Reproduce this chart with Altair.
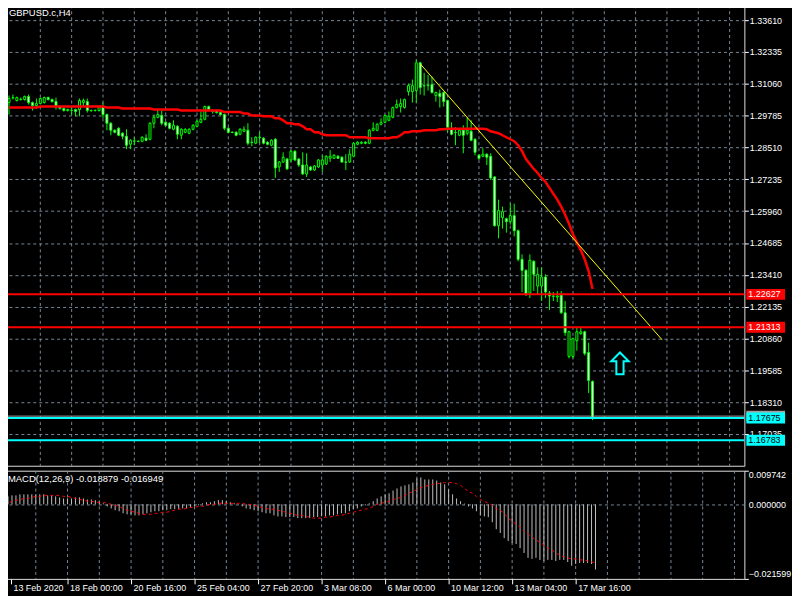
import altair as alt
import pandas as pd

# ---------------- data ----------------
bar_open = [
    1.3031, 1.3051, 1.3039, 1.3043, 1.3043, 1.3055, 1.3031, 1.3019, 1.3027, 1.3031,
    1.3051, 1.3043, 1.3035, 1.3015, 1.3007, 1.2999, 1.2999, 1.3003, 1.3003, 1.3031,
    1.3035, 1.2999, 1.2999, 1.2999, 1.3015, 1.2983, 1.2948, 1.2920, 1.2928, 1.2908,
    1.2896, 1.2864, 1.2876, 1.2876, 1.2876, 1.2888, 1.2884, 1.2948, 1.2972, 1.2979,
    1.2952, 1.2948, 1.2924, 1.2936, 1.2900, 1.2912, 1.2908, 1.2924, 1.2936, 1.2952,
    1.2964, 1.3015, 1.2995, 1.2999, 1.2991, 1.2983, 1.2928, 1.2912, 1.2912, 1.2904,
    1.2916, 1.2920, 1.2872, 1.2868, 1.2892, 1.2888, 1.2872, 1.2860, 1.2884, 1.2773,
    1.2793, 1.2805, 1.2801, 1.2836, 1.2805, 1.2781, 1.2745, 1.2773, 1.2761, 1.2773,
    1.2781, 1.2785, 1.2808, 1.2808, 1.2816, 1.2812, 1.2793, 1.2793, 1.2816, 1.2864,
    1.2868, 1.2872, 1.2868, 1.2920, 1.2920, 1.2944, 1.2952, 1.2960, 1.2972, 1.3011,
    1.3015, 1.3011, 1.3075, 1.3075, 1.3079, 1.3190, 1.3099, 1.3099, 1.3103, 1.3059,
    1.3067, 1.3071, 1.3039, 1.2928, 1.2912, 1.2900, 1.2920, 1.2908, 1.2916, 1.2884,
    1.2820, 1.2816, 1.2824, 1.2816, 1.2733, 1.2538, 1.2570, 1.2566, 1.2554, 1.2578,
    1.2518, 1.2403, 1.2359, 1.2268, 1.2395, 1.2296, 1.2296, 1.2332, 1.2268, 1.2256,
    1.2252, 1.2260, 1.2189, 1.2014, 1.2014, 1.2077, 1.2105, 1.2113, 1.2030, 1.1914,
]
bar_high = [
    1.3059, 1.3063, 1.3055, 1.3051, 1.3059, 1.3063, 1.3035, 1.3047, 1.3051, 1.3055,
    1.3055, 1.3047, 1.3051, 1.3019, 1.3011, 1.3007, 1.3015, 1.3007, 1.3047, 1.3047,
    1.3047, 1.3003, 1.3003, 1.3019, 1.3031, 1.2987, 1.2952, 1.2924, 1.2932, 1.2912,
    1.2924, 1.2884, 1.2892, 1.2880, 1.2896, 1.2904, 1.2952, 1.2983, 1.3003, 1.2999,
    1.2956, 1.2952, 1.2960, 1.2940, 1.2928, 1.2928, 1.2928, 1.2944, 1.2960, 1.2995,
    1.3019, 1.3019, 1.3003, 1.3003, 1.2995, 1.2987, 1.2932, 1.2916, 1.2916, 1.2928,
    1.2936, 1.2948, 1.2892, 1.2896, 1.2912, 1.2892, 1.2876, 1.2884, 1.2888, 1.2797,
    1.2832, 1.2808, 1.2840, 1.2840, 1.2808, 1.2832, 1.2828, 1.2777, 1.2781, 1.2805,
    1.2820, 1.2820, 1.2840, 1.2824, 1.2820, 1.2816, 1.2824, 1.2844, 1.2872, 1.2876,
    1.2876, 1.2876, 1.2924, 1.2952, 1.2948, 1.2968, 1.2983, 1.2995, 1.3015, 1.3043,
    1.3047, 1.3047, 1.3107, 1.3123, 1.3202, 1.3194, 1.3150, 1.3142, 1.3135, 1.3075,
    1.3083, 1.3075, 1.3043, 1.2952, 1.2932, 1.2924, 1.2940, 1.2972, 1.2960, 1.2888,
    1.2824, 1.2848, 1.2828, 1.2828, 1.2737, 1.2642, 1.2614, 1.2570, 1.2626, 1.2626,
    1.2522, 1.2423, 1.2363, 1.2423, 1.2399, 1.2371, 1.2371, 1.2343, 1.2276, 1.2272,
    1.2276, 1.2276, 1.2236, 1.2117, 1.2089, 1.2133, 1.2133, 1.2117, 1.2069, 1.1918,
]
bar_low = [
    1.2983, 1.3043, 1.3035, 1.3039, 1.3039, 1.3023, 1.2999, 1.3007, 1.3023, 1.3027,
    1.3039, 1.3031, 1.3003, 1.3003, 1.2995, 1.2995, 1.2983, 1.2976, 1.2976, 1.3015,
    1.2991, 1.2995, 1.2995, 1.2995, 1.2968, 1.2920, 1.2900, 1.2908, 1.2896, 1.2884,
    1.2844, 1.2844, 1.2860, 1.2872, 1.2872, 1.2876, 1.2880, 1.2928, 1.2968, 1.2940,
    1.2936, 1.2924, 1.2920, 1.2884, 1.2884, 1.2908, 1.2904, 1.2920, 1.2932, 1.2948,
    1.2960, 1.2999, 1.2987, 1.2987, 1.2979, 1.2920, 1.2908, 1.2908, 1.2896, 1.2900,
    1.2912, 1.2860, 1.2856, 1.2864, 1.2868, 1.2864, 1.2860, 1.2856, 1.2729, 1.2753,
    1.2789, 1.2761, 1.2793, 1.2797, 1.2773, 1.2741, 1.2733, 1.2757, 1.2757, 1.2769,
    1.2753, 1.2781, 1.2793, 1.2805, 1.2805, 1.2789, 1.2761, 1.2789, 1.2812, 1.2860,
    1.2864, 1.2864, 1.2864, 1.2916, 1.2916, 1.2940, 1.2948, 1.2956, 1.2968, 1.3007,
    1.2991, 1.3007, 1.3059, 1.3031, 1.3031, 1.3063, 1.3059, 1.3079, 1.3067, 1.3035,
    1.3011, 1.3015, 1.2912, 1.2900, 1.2860, 1.2896, 1.2828, 1.2900, 1.2876, 1.2820,
    1.2801, 1.2812, 1.2781, 1.2721, 1.2534, 1.2487, 1.2526, 1.2510, 1.2542, 1.2495,
    1.2395, 1.2272, 1.2256, 1.2248, 1.2276, 1.2260, 1.2236, 1.2248, 1.2200, 1.2236,
    1.2232, 1.2185, 1.2097, 1.2006, 1.2006, 1.2037, 1.2101, 1.2018, 1.1867, 1.1759,
]
bar_close = [
    1.3047, 1.3050, 1.3051, 1.3044, 1.3055, 1.3031, 1.3019, 1.3027, 1.3047, 1.3051,
    1.3043, 1.3035, 1.3015, 1.3007, 1.2999, 1.3003, 1.3000, 1.2995, 1.3039, 1.3039,
    1.2999, 1.2998, 1.3000, 1.3015, 1.2983, 1.2948, 1.2920, 1.2912, 1.2900, 1.2896,
    1.2860, 1.2880, 1.2877, 1.2875, 1.2892, 1.2880, 1.2948, 1.2972, 1.2983, 1.2948,
    1.2940, 1.2928, 1.2940, 1.2904, 1.2924, 1.2924, 1.2924, 1.2940, 1.2956, 1.2964,
    1.3015, 1.3003, 1.2996, 1.2991, 1.2983, 1.2928, 1.2912, 1.2911, 1.2900, 1.2924,
    1.2924, 1.2868, 1.2871, 1.2892, 1.2891, 1.2868, 1.2864, 1.2880, 1.2769, 1.2793,
    1.2812, 1.2765, 1.2836, 1.2801, 1.2781, 1.2745, 1.2781, 1.2761, 1.2777, 1.2801,
    1.2801, 1.2816, 1.2816, 1.2820, 1.2808, 1.2793, 1.2792, 1.2824, 1.2868, 1.2872,
    1.2872, 1.2868, 1.2920, 1.2928, 1.2944, 1.2952, 1.2979, 1.2976, 1.3011, 1.3023,
    1.3027, 1.3043, 1.3099, 1.3099, 1.3190, 1.3091, 1.3098, 1.3100, 1.3071, 1.3071,
    1.3055, 1.3035, 1.2932, 1.2904, 1.2911, 1.2920, 1.2900, 1.2920, 1.2880, 1.2832,
    1.2808, 1.2824, 1.2812, 1.2729, 1.2538, 1.2598, 1.2594, 1.2554, 1.2578, 1.2518,
    1.2403, 1.2359, 1.2264, 1.2399, 1.2343, 1.2343, 1.2332, 1.2272, 1.2256, 1.2255,
    1.2256, 1.2189, 1.2109, 1.2113, 1.2085, 1.2113, 1.2113, 1.2026, 1.1918, 1.1767,
]
ma_values = [
    1.3011, 1.3011, 1.3011, 1.3011, 1.3011, 1.3011, 1.3011, 1.3011, 1.3015, 1.3015,
    1.3015, 1.3015, 1.3015, 1.3015, 1.3015, 1.3015, 1.3015, 1.3015, 1.3015, 1.3015,
    1.3015, 1.3015, 1.3015, 1.3015, 1.3015, 1.3011, 1.3011, 1.3011, 1.3011, 1.3007,
    1.3007, 1.3007, 1.3007, 1.3007, 1.3007, 1.3007, 1.3007, 1.3003, 1.3003, 1.3003,
    1.3003, 1.3003, 1.3003, 1.3003, 1.2999, 1.2999, 1.2999, 1.2999, 1.2999, 1.2999,
    1.2999, 1.2999, 1.2999, 1.2999, 1.2999, 1.2993, 1.2993, 1.2993, 1.2993, 1.2993,
    1.2987, 1.2987, 1.2979, 1.2979, 1.2979, 1.2976, 1.2976, 1.2976, 1.2968, 1.2968,
    1.2960, 1.2948, 1.2948, 1.2944, 1.2944, 1.2936, 1.2924, 1.2924, 1.2912, 1.2912,
    1.2904, 1.2900, 1.2900, 1.2900, 1.2900, 1.2900, 1.2900, 1.2892, 1.2892, 1.2892,
    1.2892, 1.2892, 1.2888, 1.2888, 1.2888, 1.2888, 1.2888, 1.2888, 1.2892, 1.2892,
    1.2900, 1.2912, 1.2912, 1.2916, 1.2916, 1.2916, 1.2920, 1.2920, 1.2920, 1.2920,
    1.2924, 1.2924, 1.2926, 1.2926, 1.2926, 1.2926, 1.2926, 1.2926, 1.2926, 1.2926,
    1.2926, 1.2926, 1.2924, 1.2916, 1.2912, 1.2908, 1.2900, 1.2892, 1.2884, 1.2876,
    1.2860, 1.2836, 1.2805, 1.2785, 1.2765, 1.2749, 1.2729, 1.2713, 1.2689, 1.2665,
    1.2642, 1.2614, 1.2582, 1.2546, 1.2503, 1.2471, 1.2439, 1.2403, 1.2356, 1.2284,
]
macd_main = [
    0.0020, 0.0023, 0.0026, 0.0026, 0.0029, 0.0029, 0.0029, 0.0029, 0.0029, 0.0029,
    0.0029, 0.0026, 0.0026, 0.0023, 0.0020, 0.0017, 0.0017, 0.0017, 0.0020, 0.0020,
    0.0017, 0.0014, 0.0014, 0.0012, 0.0009, 0.0003, -0.0006, -0.0012, -0.0017, -0.0020,
    -0.0026, -0.0029, -0.0029, -0.0032, -0.0032, -0.0029, -0.0026, -0.0023, -0.0020, -0.0020,
    -0.0017, -0.0017, -0.0014, -0.0014, -0.0014, -0.0012, -0.0012, -0.0009, -0.0006, -0.0003,
    0.0003, 0.0006, 0.0006, 0.0009, 0.0012, 0.0012, 0.0009, 0.0006, 0.0003, -0.0001,
    -0.0006, -0.0012, -0.0014, -0.0017, -0.0020, -0.0023, -0.0026, -0.0026, -0.0032, -0.0035,
    -0.0035, -0.0037, -0.0037, -0.0037, -0.0040, -0.0040, -0.0040, -0.0040, -0.0037, -0.0037,
    -0.0035, -0.0035, -0.0032, -0.0032, -0.0029, -0.0026, -0.0026, -0.0020, -0.0014, -0.0012,
    -0.0006, -0.0003, 0.0003, 0.0009, 0.0017, 0.0023, 0.0029, 0.0032, 0.0040, 0.0046,
    0.0052, 0.0055, 0.0058, 0.0063, 0.0075, 0.0078, 0.0072, 0.0072, 0.0072, 0.0069,
    0.0063, 0.0058, 0.0043, 0.0029, 0.0017, 0.0009, 0.0002, -0.0006, -0.0012, -0.0020,
    -0.0032, -0.0035, -0.0037, -0.0052, -0.0072, -0.0083, -0.0098, -0.0106, -0.0112, -0.0115,
    -0.0127, -0.0141, -0.0155, -0.0158, -0.0155, -0.0161, -0.0164, -0.0161, -0.0161, -0.0164,
    -0.0161, -0.0161, -0.0167, -0.0178, -0.0173, -0.0170, -0.0170, -0.0170, -0.0173, -0.018879,
]
macd_signal = [
    0.0000, 0.0003, 0.0009, 0.0012, 0.0014, 0.0017, 0.0017, 0.0020, 0.0023, 0.0023,
    0.0026, 0.0026, 0.0026, 0.0026, 0.0026, 0.0023, 0.0023, 0.0020, 0.0017, 0.0014,
    0.0012, 0.0009, 0.0009, 0.0006, 0.0006, 0.0006, 0.0003, 0.0000, -0.0003, -0.0006,
    -0.0012, -0.0017, -0.0020, -0.0023, -0.0026, -0.0029, -0.0029, -0.0029, -0.0026, -0.0026,
    -0.0023, -0.0023, -0.0020, -0.0017, -0.0014, -0.0014, -0.0012, -0.0009, -0.0009, -0.0006,
    -0.0006, -0.0003, 0.0000, 0.0000, 0.0003, 0.0003, 0.0003, 0.0003, 0.0003, 0.0003,
    0.0003, 0.0000, 0.0000, -0.0003, -0.0006, -0.0009, -0.0012, -0.0014, -0.0014, -0.0017,
    -0.0020, -0.0023, -0.0026, -0.0029, -0.0032, -0.0032, -0.0035, -0.0037, -0.0040, -0.0040,
    -0.0040, -0.0037, -0.0037, -0.0035, -0.0032, -0.0032, -0.0029, -0.0026, -0.0023, -0.0020,
    -0.0017, -0.0014, -0.0012, -0.0006, 0.0000, 0.0003, 0.0006, 0.0009, 0.0014, 0.0017,
    0.0020, 0.0026, 0.0032, 0.0037, 0.0043, 0.0049, 0.0052, 0.0055, 0.0058, 0.0060,
    0.0060, 0.0063, 0.0063, 0.0063, 0.0060, 0.0055, 0.0046, 0.0037, 0.0032, 0.0023,
    0.0014, 0.0009, 0.0003, -0.0003, -0.0012, -0.0017, -0.0026, -0.0040, -0.0049, -0.0058,
    -0.0066, -0.0078, -0.0086, -0.0095, -0.0104, -0.0109, -0.0118, -0.0127, -0.0132, -0.0141,
    -0.0147, -0.0152, -0.0155, -0.0158, -0.0158, -0.0161, -0.0161, -0.0164, -0.0167, -0.016949,
]

price_ticks = [1.33610, 1.32335, 1.31060, 1.29785, 1.28510, 1.27235, 1.25960,
               1.24685, 1.23410, 1.22135, 1.20860, 1.19585, 1.18310, 1.17035]
macd_ticks = [0.009742, 0.0, -0.021599]
time_tick_idx = [1.75, 16, 32, 48, 64, 80, 96, 112, 128, 144]
time_tick_labels = ["13 Feb 2020", "18 Feb 00:00", "20 Feb 16:00", "25 Feb 04:00",
                    "27 Feb 20:00", "3 Mar 08:00", "6 Mar 00:00", "10 Mar 12:00",
                    "13 Mar 04:00", "17 Mar 16:00"]
grid_idx = [8, 16, 24, 32, 40, 48, 56, 64, 72, 80, 88, 96, 104, 112, 120, 128,
            136, 144, 152, 160, 168, 176, 184]

level_prices = [1.22627, 1.21313, 1.17675, 1.16783]
level_colors = ["#ff0000", "#ff0000", "#00ffff", "#00ffff"]
level_text_colors = ["#ffffff", "#ffffff", "#000000", "#000000"]
bid_price = [1.1775]

trend_idx = [105, 166.75]
trend_price = [1.3186, 1.2081]
arrow_idx = [156]
arrow_price = [1.1986]

# ---------------- tables ----------------
bars = pd.DataFrame({
    "i": list(range(len(bar_close))),
    "open": bar_open, "high": bar_high, "low": bar_low, "close": bar_close,
    "ma": ma_values, "macd": macd_main, "signal": macd_signal,
})
bars["zero"] = 0.0
grid_df = pd.DataFrame({"g": grid_idx})
levels = pd.DataFrame({"price": level_prices, "color": level_colors,
                       "tcolor": level_text_colors,
                       "label": [f"{p:.5f}" for p in level_prices]})
bid_df = pd.DataFrame({"price": bid_price})
trend_df = pd.DataFrame({"i": trend_idx, "price": trend_price})
arrow_df = pd.DataFrame({"i": arrow_idx, "price": arrow_price})

W = 746
H_MAIN = 464
H_MACD = 109
FONT = "Liberation Sans"
FS = 9
GRID = "#778899"
LIME = "#00ff00"

x_scale = alt.Scale(domain=[0, 186.5], nice=False, zero=False)
y_main = alt.Scale(domain=[1.15762, 1.34207], nice=False, zero=False)
y_macd = alt.Scale(domain=[-0.021599, 0.009742], nice=False, zero=False)

ax_price = alt.Axis(orient="right", values=price_ticks, format=".5f", title=None,
                    labelColor="white", labelFont=FONT, labelFontSize=FS,
                    tickColor="white", tickSize=4, labelPadding=1, domain=False,
                    grid=True, gridColor=GRID, gridDash=[3, 3], zindex=0)
ax_macd = alt.Axis(orient="right", values=macd_ticks, format=".6f", title=None,
                   labelColor="white", labelFont=FONT, labelFontSize=FS,
                   tickColor="white", tickSize=4, labelPadding=0, domain=False,
                   labelFlush=True,
                   tickOpacity={"condition": {"test": "datum.value === 0", "value": 0}, "value": 1},
                   grid=True, gridColor=GRID, gridDash=[3, 3],
                   gridOpacity={"condition": {"test": "datum.value === 0", "value": 1}, "value": 0},
                   zindex=0)
idx_js = "[" + ",".join(str(v) for v in time_tick_idx) + "]"
lab_js = "[" + ",".join("'" + s + "'" for s in time_tick_labels) + "]"
ax_time = alt.Axis(values=time_tick_idx, labelExpr=f"{lab_js}[indexof({idx_js}, datum.value)]",
                   title=None, labelColor="white", labelFont=FONT, labelFontSize=FS,
                   labelAlign="left", labelBaseline="top", labelOffset=2, labelPadding=0,
                   labelFlush=False, labelOverlap=False, tickColor="white", tickSize=5,
                   domain=False, grid=False, zindex=0)


def XM(f):
    return alt.X(f, type="quantitative", scale=x_scale, axis=None)


def YM(f):
    return alt.Y(f, type="quantitative", scale=y_main, axis=ax_price)


def XB(f):
    return alt.X(f, type="quantitative", scale=x_scale, axis=ax_time)


def YB(f):
    return alt.Y(f, type="quantitative", scale=y_macd, axis=ax_macd)


# ---------------- main panel ----------------
vgrid_main = alt.Chart(grid_df).mark_rule(color=GRID, strokeDash=[3, 3], strokeWidth=1).encode(
    x=XM("g"))
wicks = alt.Chart(bars).mark_rule(color=LIME, strokeWidth=1, clip=True).encode(
    x=XM("i"), y=YM("low"), y2="high")
bodies = alt.Chart(bars).mark_bar(size=2, stroke=LIME, strokeWidth=1, clip=True).encode(
    x=XM("i"), y=YM("open"), y2="close",
    fill=alt.condition("datum.close >= datum.open", alt.value("#000000"), alt.value("#ffffff")))
ma_line = alt.Chart(bars).mark_line(color="#ff0000", strokeWidth=2.5, clip=True).encode(
    x=XM("i"), y=YM("ma"))
trend = alt.Chart(trend_df).mark_line(color="#ffff00", strokeWidth=1, clip=True).encode(
    x=XM("i"), y=YM("price"))
bid_line = alt.Chart(bid_df).mark_rule(color="#a0a0a0", strokeWidth=1).encode(y=YM("price"))
level_lines = alt.Chart(levels).mark_rule(strokeWidth=2).encode(
    y=YM("price"), color=alt.Color("color:N", scale=None))
bid_box = alt.Chart(bid_df).mark_rect(color="#a0a0a0", yOffset=-5.5, y2Offset=5.5).encode(
    y=YM("price"), y2="price", x=alt.value(W + 2), x2=alt.value(W + 41))
level_boxes = alt.Chart(levels).mark_rect(yOffset=-5.5, y2Offset=5.5).encode(
    y=YM("price"), y2="price", x=alt.value(W + 2), x2=alt.value(W + 41),
    color=alt.Color("color:N", scale=None))
level_text = alt.Chart(levels).mark_text(align="left", baseline="middle", font=FONT,
                                         fontSize=FS).encode(
    y=YM("price"), x=alt.value(W + 4), text="label:N",
    color=alt.Color("tcolor:N", scale=None))
ARROW = "M0,-1L0.8,-0.2L0.33,-0.2L0.33,1L-0.33,1L-0.33,-0.2L-0.8,-0.2Z"
arrow = alt.Chart(arrow_df).mark_point(shape=ARROW, size=484, filled=True, fill="#000000",
                                       stroke="#00ffff", strokeWidth=2, opacity=1).encode(
    x=XM("i"), y=YM("price"))
title_txt = alt.Chart(pd.DataFrame({"t": ["GBPUSD.c,H4"]})).mark_text(
    align="left", baseline="middle", font=FONT, fontSize=9.5, color="white").encode(
    text="t:N", x=alt.value(5), y=alt.value(8))

main = alt.layer(vgrid_main, wicks, bodies, ma_line, trend, bid_line, level_lines,
                 bid_box, level_boxes, level_text, arrow, title_txt).properties(
    width=W, height=H_MAIN)

# ---------------- MACD panel ----------------
vgrid_macd = alt.Chart(grid_df).mark_rule(color=GRID, strokeDash=[3, 3], strokeWidth=1).encode(
    x=XB("g"))
hist = alt.Chart(bars).mark_rule(color="#c0c0c0", strokeWidth=1, clip=True).encode(
    x=XB("i"), y=YB("macd"), y2="zero")
sig = alt.Chart(bars).mark_line(color="#ff0000", strokeWidth=1, strokeDash=[3, 3],
                                clip=True).encode(x=XB("i"), y=YB("signal"))
macd_txt = alt.Chart(pd.DataFrame({"t": ["MACD(12,26,9) -0.018879 -0.016949"]})).mark_text(
    align="left", baseline="middle", font=FONT, fontSize=9.5, color="white").encode(
    text="t:N", x=alt.value(4), y=alt.value(8))

macd = alt.layer(vgrid_macd, hist, sig, macd_txt).properties(width=W, height=H_MACD)

chart = alt.vconcat(main, macd, spacing=3).properties(
    background="#000000",
    padding={"left": -6, "top": -6, "right": 0, "bottom": 0},
).configure_view(stroke="#ffffff", strokeWidth=1, fill="#000000").configure(
    font=FONT)

chart.save("out.html", embed_options={"renderer": "svg", "actions": False})
